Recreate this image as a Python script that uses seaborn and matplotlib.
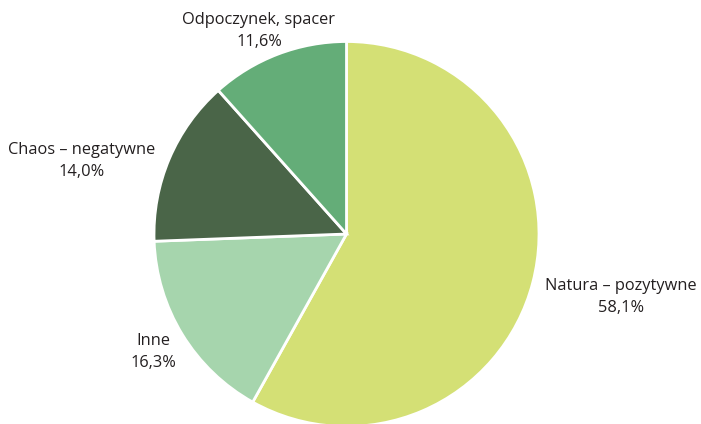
import matplotlib
matplotlib.use("Agg")
import matplotlib.pyplot as plt
import seaborn as sns

categories = ["Natura – pozytywne", "Inne", "Chaos – negatywne", "Odpoczynek, spacer"]
shares = [58.1, 16.3, 14.0, 11.6]
colors = ["#D4E075", "#A6D5AD", "#4A6548", "#64AD78"]

# label anchor points in figure pixels (x from left, y from top)
label_pos = [(621, 297), (153, 352), (82, 161), (259, 31)]

sns.set_theme(style="white")
plt.rcParams["font.family"] = ["Open Sans", "DejaVu Sans"]

W, H = 701, 424
fig = plt.figure(figsize=(W / 100, H / 100), dpi=100)
cx, cy, r = 346.5, 234, 192.5
ax = fig.add_axes([(cx - r) / W, (H - cy - r) / H, 2 * r / W, 2 * r / H])

ax.pie(
    shares,
    colors=sns.color_palette(colors),
    startangle=90,
    counterclock=False,
    radius=1.0,
    wedgeprops=dict(edgecolor="white", linewidth=2),
)
ax.set_xlim(-1.0, 1.0)
ax.set_ylim(-1.0, 1.0)
ax.set_aspect("equal")
ax.axis("off")

for name, val, (px, py) in zip(categories, shares, label_pos):
    txt = f"{name}\n{val:.1f}%".replace(".", ",")
    fig.text(px / W, 1 - py / H, txt, ha="center", va="center",
             fontsize=11.8, color="#231F20", linespacing=1.45)

fig.savefig("out.png", dpi=100)
